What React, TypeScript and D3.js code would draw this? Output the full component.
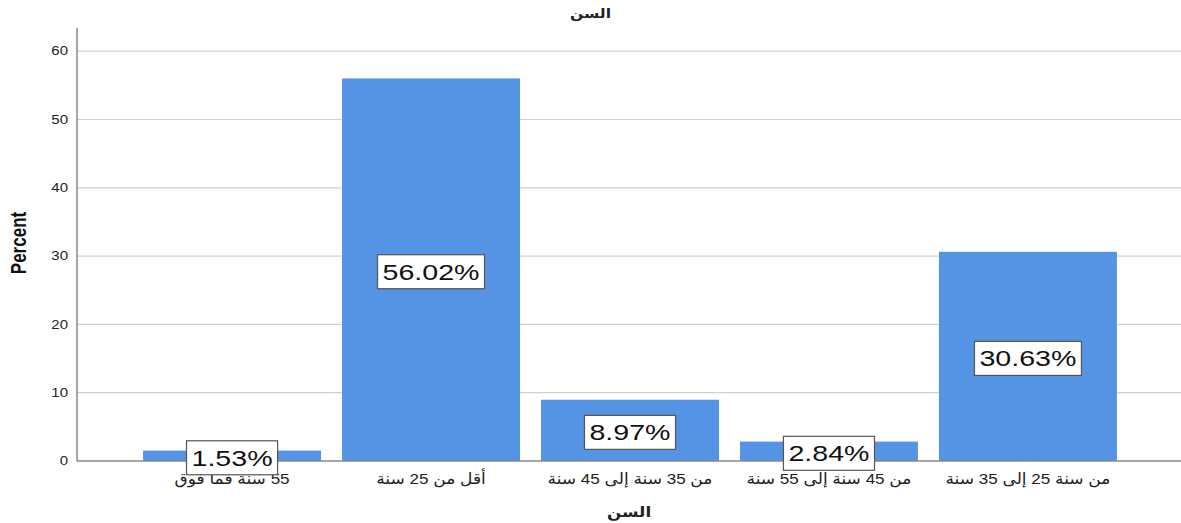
import React, { useEffect, useRef } from "react";
import * as d3 from "d3";

// categories as shown left to right
const categories = [
  "55 سنة فما فوق",
  "أقل من 25 سنة",
  "من 35 سنة إلى 45 سنة",
  "من 45 سنة إلى 55 سنة",
  "من سنة 25 إلى 35 سنة",
];
const percents = [1.53, 56.02, 8.97, 2.84, 30.63];
const yTicks = [0, 10, 20, 30, 40, 50, 60];
const chartTitle = "السن";
const xTitle = "السن";
const yTitle = "Percent";

const App = () => {
  const svgRef = useRef<SVGSVGElement>(null);

  useEffect(() => {
    const width = 1181;
    const height = 523;
    const marginLeft = 77;
    const marginRight = 0;
    const marginTop = 28;
    const marginBottom = 62;
    const sx = 1.3; // picture text looks stretched sideways
    const font = "'Liberation Sans', Arial, 'DejaVu Sans', sans-serif";

    const svg = d3.select(svgRef.current)
      .attr("width", width)
      .attr("height", height)
      .style("position", "absolute")
      .style("left", "0px")
      .style("top", "0px")
      .style("font-family", font);

    svg.selectAll("*").remove();

    const x = d3.scaleBand()
      .domain(categories)
      .range([marginLeft + 1, width - marginRight + 1])
      .paddingInner(0.1055)
      .paddingOuter(0.327);

    const y = d3.scaleLinear()
      .domain([0, 63.4])
      .range([height - marginBottom, marginTop]);

    // gridlines
    svg.append("g")
      .selectAll("line")
      .data(yTicks.filter(t => t > 0))
      .join("line")
      .attr("x1", marginLeft)
      .attr("x2", width - marginRight)
      .attr("y1", d => y(d))
      .attr("y2", d => y(d))
      .attr("stroke", "#d0d0d0")
      .attr("stroke-width", 1.2);

    // tick labels
    svg.append("g")
      .selectAll("text")
      .data(yTicks)
      .join("text")
      .attr("transform", d => `translate(${marginLeft - 9},${y(d)}) scale(1.25,1)`)
      .attr("text-anchor", "end")
      .attr("dy", "0.35em")
      .attr("font-size", 12)
      .attr("fill", "#222")
      .text(d => d);

    // bars
    svg.append("g")
      .attr("fill", "#5594e4")
      .selectAll("rect")
      .data(percents)
      .join("rect")
      .attr("x", (d, i) => x(categories[i])!)
      .attr("y", d => y(d))
      .attr("width", x.bandwidth())
      .attr("height", d => y(0) - y(d));

    // axes lines
    svg.append("line")
      .attr("x1", marginLeft).attr("x2", marginLeft)
      .attr("y1", marginTop).attr("y2", y(0))
      .attr("stroke", "#888").attr("stroke-width", 1.5);
    svg.append("line")
      .attr("x1", marginLeft).attr("x2", width - marginRight)
      .attr("y1", y(0)).attr("y2", y(0))
      .attr("stroke", "#888").attr("stroke-width", 1.5);

    // category labels
    svg.append("g")
      .selectAll("text")
      .data(categories)
      .join("text")
      .attr("transform", d => `translate(${x(d)! + x.bandwidth() / 2},${y(0) + 23}) scale(1.1,1)`)
      .attr("text-anchor", "middle")
      .attr("direction", "rtl")
      .attr("font-size", 15.5)
      .attr("fill", "#222")
      .text(d => d);

    // value labels in boxes
    const labels = svg.append("g")
      .selectAll("g")
      .data(percents)
      .join("g")
      .attr("transform", (d, i) =>
        `translate(${x(categories[i])! + x.bandwidth() / 2},${(y(d) + y(0)) / 2 + 2})`);

    labels.append("rect")
      .attr("fill", "white")
      .attr("stroke", "#555")
      .attr("stroke-width", 1.2);

    labels.append("text")
      .attr("transform", `scale(${sx},1)`)
      .attr("text-anchor", "middle")
      .attr("dy", "0.36em")
      .attr("font-size", 22)
      .attr("fill", "#111")
      .text(d => d.toFixed(2) + "%");

    labels.each(function () {
      const g = d3.select(this);
      const bb = (g.select("text").node() as SVGTextElement).getBBox();
      const w = bb.width * sx + 10;
      const h = 34;
      g.select("rect")
        .attr("x", -w / 2)
        .attr("y", -h / 2)
        .attr("width", w)
        .attr("height", h);
    });

    // titles
    svg.append("text")
      .attr("transform", `translate(${width / 2},${18}) scale(1.2,1)`)
      .attr("text-anchor", "middle")
      .attr("font-size", 13)
      .attr("font-weight", "bold")
      .attr("fill", "#222")
      .text(chartTitle);

    svg.append("text")
      .attr("transform", `translate(${(marginLeft + width - marginRight) / 2},${517}) scale(1.2,1)`)
      .attr("text-anchor", "middle")
      .attr("font-size", 14)
      .attr("font-weight", "bold")
      .attr("fill", "#222")
      .text(xTitle);

    svg.append("text")
      .attr("transform", `translate(${26},${243}) scale(1.35,1) rotate(-90)`)
      .attr("text-anchor", "middle")
      .attr("font-size", 17)
      .attr("font-weight", "bold")
      .attr("fill", "#111")
      .text(yTitle);
  }, []);

  return <svg ref={svgRef}></svg>;
};

export default App;
